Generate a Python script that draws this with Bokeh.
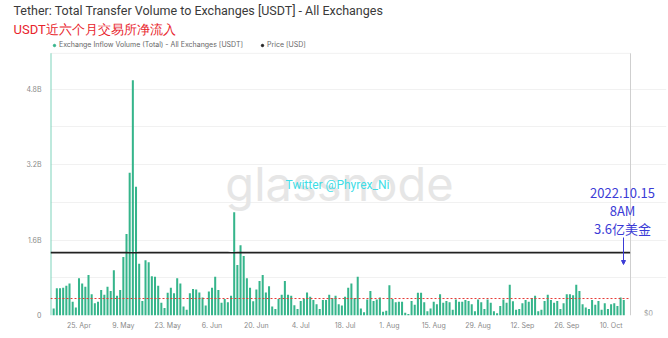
import pandas as pd
from bokeh.plotting import figure
from bokeh.models import (ColumnDataSource, Range1d, FixedTicker, Title,
                          CustomJSTickFormatter, Label, Arrow, NormalHead,
                          Legend, LegendItem)
from bokeh.embed import file_html
from bokeh.resources import INLINE

# ---------------- data ----------------
inflow_start = "2022-04-17"
inflow_b = [  # daily exchange inflow, billions USDT
    0.15, 0.58, 0.58, 0.59, 0.63, 0.68, 0.29, 0.17, 0.79, 0.68, 0.61, 0.86, 0.45, 0.26, 0.29, 0.54,
    0.44, 0.61, 0.52, 0.96, 0.42, 0.54, 1.24, 1.73, 3.03, 4.99, 2.73, 1.10, 0.31, 1.17, 1.13, 0.83,
    0.82, 0.63, 0.27, 0.16, 0.48, 0.59, 0.47, 0.79, 0.68, 0.19, 0.12, 0.47, 0.56, 0.55, 0.49, 0.38,
    0.21, 0.51, 0.59, 0.82, 0.54, 0.27, 0.35, 0.28, 0.42, 2.19, 1.07, 1.49, 1.26, 0.79, 0.59, 0.30,
    0.55, 0.73, 0.86, 0.49, 0.62, 0.19, 0.14, 0.35, 0.44, 0.73, 0.44, 0.42, 0.22, 0.14, 0.31, 0.35,
    0.49, 0.40, 0.33, 0.24, 0.14, 0.33, 0.33, 0.44, 0.37, 0.42, 0.24, 0.21, 0.40, 0.59, 0.68, 0.37,
    0.82, 0.15, 0.07, 0.34, 0.52, 0.31, 0.34, 0.38, 0.08, 0.10, 0.64, 0.35, 0.28, 0.29, 0.29, 0.06,
    0.03, 0.31, 0.23, 0.48, 0.48, 0.28, 0.09, 0.15, 0.29, 0.24, 0.45, 0.27, 0.31, 0.28, 0.12, 0.34,
    0.29, 0.29, 0.33, 0.31, 0.24, 0.09, 0.34, 0.28, 0.14, 0.34, 0.27, 0.09, 0.05, 0.20, 0.34, 0.27,
    0.65, 0.30, 0.12, 0.14, 0.26, 0.33, 0.29, 0.37, 0.42, 0.09, 0.12, 0.31, 0.44, 0.33, 0.27, 0.31,
    0.14, 0.26, 0.45, 0.45, 0.43, 0.65, 0.52, 0.24, 0.17, 0.14, 0.33, 0.23, 0.31, 0.12, 0.26, 0.14,
    0.24, 0.26, 0.20, 0.38, 0.33,
]
price_start = "2022-04-16"
price_usd = [
    1.000, 1.000, 1.000, 1.000, 1.000, 1.000, 1.000, 1.000,
    1.000, 1.000, 1.000, 1.000, 1.000, 1.000, 1.000, 1.000,
    1.000, 1.000, 1.000, 1.000, 1.000, 1.000, 1.000, 1.000,
    1.000, 0.999, 0.998, 0.999, 1.000, 1.000, 1.000, 1.000,
    1.000, 1.000, 1.000, 1.000, 1.000, 1.000, 1.000, 1.000,
    1.000, 1.000, 1.000, 1.000, 1.000, 1.000, 1.000, 1.000,
    1.000, 1.000, 1.000, 1.000, 1.000, 1.000, 1.000, 1.000,
    1.000, 0.999, 0.999, 1.000, 1.000, 1.000, 1.000, 1.000,
    1.000, 1.000, 1.000, 1.000, 1.000, 1.000, 1.000, 1.000,
    1.000, 1.000, 1.000, 1.000, 1.000, 1.000, 1.000, 1.000,
    1.000, 1.000, 1.000, 1.000, 1.000, 1.000, 1.000, 1.000,
    1.000, 1.000, 1.000, 1.000, 1.000, 1.000, 1.000, 1.000,
    1.000, 1.000, 1.000, 1.000, 1.000, 1.000, 1.000, 1.000,
    1.000, 1.000, 1.000, 1.000, 1.000, 1.000, 1.000, 1.000,
    1.000, 1.000, 1.000, 1.000, 1.000, 1.000, 1.000, 1.000,
    1.000, 1.000, 1.000, 1.000, 1.000, 1.000, 1.000, 1.000,
    1.000, 1.000, 1.000, 1.000, 1.000, 1.000, 1.000, 1.000,
    1.000, 1.000, 1.000, 1.000, 1.000, 1.000, 1.000, 1.000,
    1.000, 1.000, 1.000, 1.000, 1.000, 1.000, 1.000, 1.000,
    1.000, 1.000, 1.000, 1.000, 1.000, 1.000, 1.000, 1.000,
    1.000, 1.000, 1.000, 1.000, 1.000, 1.000, 1.000, 1.000,
    1.000, 1.000, 1.000, 1.000, 1.000, 1.000, 1.000, 1.000,
    1.000, 1.000, 1.000, 1.000, 1.000, 1.000, 1.000, 1.000,
]
tick_dates = ["2022-04-25", "2022-05-09", "2022-05-23", "2022-06-06", "2022-06-20",
              "2022-07-04", "2022-07-18", "2022-08-01", "2022-08-15", "2022-08-29",
              "2022-09-12", "2022-09-26", "2022-10-10"]
tick_labels = ["25. Apr", "9. May", "23. May", "6. Jun", "20. Jun", "4. Jul", "18. Jul",
               "1. Aug", "15. Aug", "29. Aug", "12. Sep", "26. Sep", "10. Oct"]
y_major_b = [0, 1.6, 3.2, 4.8]
y_minor_b = [0.8, 2.4, 4.0]
threshold_b = 0.36   # 3.6亿美金
price_axis_label = "$0"

title_text = "Tether: Total Transfer Volume to Exchanges [USDT] - All Exchanges"
subtitle_text = "USDT近六个月交易所净流入"
series_name = "Exchange Inflow Volume (Total) - All Exchanges [USDT]"
price_name = "Price [USD]"
note_lines = ["2022.10.15", "8AM", "3.6亿美金"]

# ---------------- build ----------------
inflow_dates = pd.date_range(inflow_start, periods=len(inflow_b), freq="D")
price_dates = pd.date_range(price_start, periods=len(price_usd), freq="D")
src = ColumnDataSource(dict(date=inflow_dates, inflow=[v * 1e9 for v in inflow_b]))
psrc = ColumnDataSource(dict(date=price_dates, price=price_usd))

FONT = "Inter"
GREEN = "#35b58b"
BLUE = "#3b3bd6"
DAY = 86400000

def ms(ts):
    return pd.Timestamp(ts).value / 1e6

x0 = ms("2022-04-16 00:00")
x_axis_end = ms("2022-10-16 03:00")           # where the price axis sits
x1 = x0 + (x_axis_end - x0) * (616 / 580)      # frame extends a bit further right
TOP, BOTTOM = 36, 315                          # frame top/bottom in page pixels
axis_top = 5.56e9                              # top of the drawn chart window
y_end = axis_top * (BOTTOM - TOP) / (BOTTOM - 50)
price_end = 4.17 * (BOTTOM - TOP) / (BOTTOM - 50)

p = figure(width=668, height=338, x_axis_type="datetime",
           x_range=Range1d(x0, x1), y_range=Range1d(0, y_end),
           output_backend="svg", toolbar_location=None,
           min_border_left=50, min_border_right=2, min_border_top=TOP,
           min_border_bottom=338 - BOTTOM)
p.outline_line_color = None
p.background_fill_color = "white"
p.border_fill_color = "white"
p.extra_y_ranges = {"price": Range1d(0, price_end)}

p.xgrid.grid_line_color = None
p.ygrid.grid_line_color = "#f1f1f1"
p.ygrid.minor_grid_line_color = "#f1f1f1"

# watermark behind the data
p.add_layout(Label(x=339, y=183, x_units="canvas", y_units="canvas", text="glassnode",
                   text_align="center", text_baseline="middle", text_font=FONT,
                   text_font_size="47px", text_color="#e6e6e6", level="underlay"))

# chart window: faint top edge, teal inflow axis line, grey price axis line
p.segment(x0=[x0], y0=[axis_top], x1=[x_axis_end], y1=[axis_top],
          line_color="#f1f1f1", line_width=1)
p.segment(x0=[x0], y0=[0], x1=[x0], y1=[axis_top], line_color="#7fd3bb", line_width=2)
p.segment(x0=[x_axis_end], y0=[0], x1=[x_axis_end], y1=[axis_top],
          line_color="#cfcfcf", line_width=1)

bars = p.vbar(x="date", top="inflow", width=0.64 * DAY, source=src,
              fill_color=GREEN, line_color=None)
pline = p.line(x="date", y="price", source=psrc, y_range_name="price",
               line_color="#222222", line_width=1.6)

p.add_layout(Label(x=648, y=313, x_units="canvas", y_units="canvas", text=price_axis_label,
                   text_align="center", text_baseline="middle", text_font=FONT,
                   text_font_size="7px", text_color="#9a9a9a"))

# axes
yax = p.yaxis[0]
yax.ticker = FixedTicker(ticks=[v * 1e9 for v in y_major_b], minor_ticks=[v * 1e9 for v in y_minor_b])
yax.formatter = CustomJSTickFormatter(code="return tick == 0 ? '0' : (tick/1e9).toFixed(1) + 'B';")
yax.axis_line_color = None
yax.major_tick_line_color = None
yax.minor_tick_line_color = None
yax.major_tick_out = 0
yax.minor_tick_out = 0
yax.major_label_standoff = 9
yax.major_label_text_font = FONT
yax.major_label_text_font_size = "7px"
yax.major_label_text_color = "#8a8a8a"

xax = p.xaxis[0]
tick_ms = [int(ms(d)) for d in tick_dates]
xax.ticker = FixedTicker(ticks=tick_ms)
xax.major_label_overrides = {t: l for t, l in zip(tick_ms, tick_labels)}
xax.axis_line_color = None
xax.major_tick_line_color = None
xax.minor_tick_line_color = None
xax.major_tick_out = 0
xax.minor_tick_out = 0
xax.major_label_standoff = 5
xax.major_label_text_font = FONT
xax.major_label_text_font_size = "7px"
xax.major_label_text_color = "#8a8a8a"

# threshold line (3.6亿)
p.segment(x0=[x0], y0=[threshold_b * 1e9], x1=[x_axis_end], y1=[threshold_b * 1e9],
          line_color="#e53935", line_dash="2 2", line_width=1)

# annotations
p.add_layout(Label(x=337, y=184, x_units="canvas", y_units="canvas", text="Twitter @Phyrex_Ni",
                   text_align="center", text_baseline="middle", text_font="Roboto",
                   text_font_size="12px", text_color="#3fdde6"))
for txt, yy in zip(note_lines, [192, 210, 228]):
    p.add_layout(Label(x=622, y=yy, x_units="canvas", y_units="canvas", text=txt,
                       text_align="center", text_baseline="middle",
                       text_font="Noto Sans CJK SC", text_font_size="13px", text_color=BLUE))
p.add_layout(Arrow(x_start=623, y_start=237, x_end=623, y_end=264,
                   start_units="canvas", end_units="canvas",
                   line_color=BLUE, line_width=1,
                   end=NormalHead(size=4, fill_color=BLUE, line_color=BLUE)))

# legend key markers: one point each, kept outside the visible window
key_src = ColumnDataSource(dict(x=[x0 - 20 * DAY], y=[0.0]))
d1 = p.scatter(x="x", y="y", source=key_src, marker="circle", size=5,
               fill_color=GREEN, line_color=GREEN)
d2 = p.scatter(x="x", y="y", source=key_src, marker="circle", size=5,
               fill_color="#222222", line_color="#222222")
leg = Legend(items=[LegendItem(label=series_name, renderers=[d1]),
                    LegendItem(label=price_name, renderers=[d2])],
             orientation="horizontal", location=(1, BOTTOM - 49),
             label_text_font=FONT, label_text_font_size="7px", label_text_color="#666666",
             glyph_width=6, glyph_height=6, label_standoff=2, spacing=16,
             padding=0, margin=0, border_line_color=None, background_fill_alpha=0,
             label_height=8)
p.add_layout(leg, "center")

# subtitle (next to the frame), then title above it
p.add_layout(Title(text=subtitle_text, align="left", offset=-37, standoff=5,
                   text_font="Roboto", text_font_size="13px",
                   text_font_style="normal", text_color="#e8242c"), "above")
p.add_layout(Title(text=title_text, align="left", offset=-37, standoff=0,
                   text_font="Roboto", text_font_size="12.5px",
                   text_font_style="normal", text_color="#3a3a3a"), "above")

open("out.html", "w").write(file_html(p, INLINE))
